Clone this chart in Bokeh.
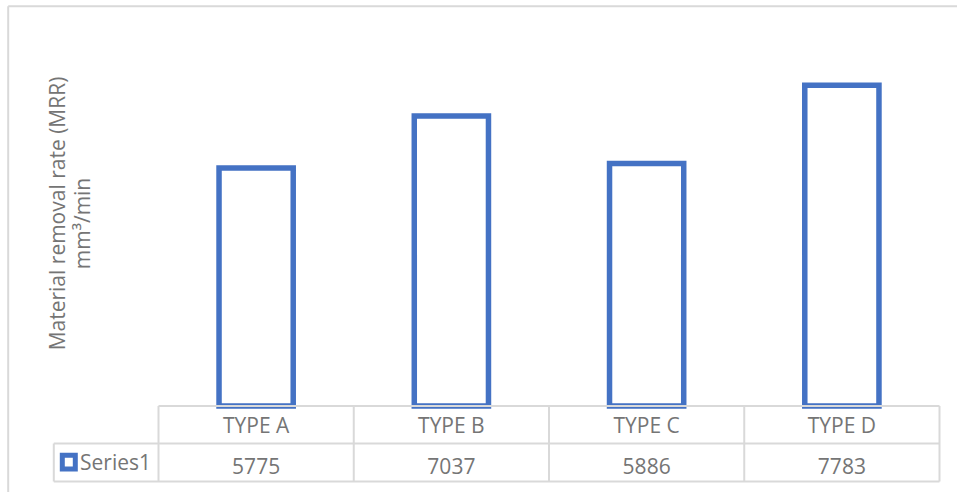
from math import pi

import numpy as np
from bokeh.core.properties import value
from bokeh.embed import file_html
from bokeh.models import Range1d
from bokeh.plotting import figure
from bokeh.resources import INLINE

# ---- data -------------------------------------------------------------
categories = ["TYPE A", "TYPE B", "TYPE C", "TYPE D"]
mrr_values = [5775, 7037, 5886, 7783]
series_name = "Series1"
y_title_lines = ["Material removal rate (MRR)", "mm³/min"]

# ---- layout (pixels) ----------------------------------------------------
W, H = 957, 492
CAT_LEFT, CAT_RIGHT = 158, 939          # category columns of the data table
CAT_W = (CAT_RIGHT - CAT_LEFT) / len(categories)
ZERO_PX = 405.5                         # baseline of the bars
PX_PER_UNIT = 0.04121

HEADER_MID, VALUE_MID = 424.0, 465.0    # vertical centres of the two table rows
ROW_TOP, ROW_MID, ROW_BOTTOM = 405.5, 443, 481
ROW_HEAD_LEFT = 53.3

BLUE = "#4472C4"
GRID = "#D9D9D9"
TEXT = "#757575"
FONT = value("Open Sans")
FONT_SIZE = "21px"


def y_of(px):
    """Vertical pixel position -> value units."""
    return (ZERO_PX - px) / PX_PER_UNIT


def x_of(px):
    """Horizontal pixel position -> category units (one unit per category)."""
    return (px - CAT_LEFT) / CAT_W


n = len(categories)
slot = np.arange(n) + 0.5               # centre of each category column

p = figure(
    width=W, height=H,
    x_range=Range1d(x_of(0), x_of(W)),
    y_range=Range1d(y_of(H), y_of(0)),
    x_axis_location=None, y_axis_location=None,
    toolbar_location=None, output_backend="svg",
    min_border=0,
)
p.outline_line_color = None
p.grid.visible = False
p.background_fill_color = "white"
p.border_fill_color = "white"

# outer chart border (left and top edges)
p.segment(x0=[x_of(7.7), x_of(7.7)], x1=[x_of(7.7), x_of(W + 5)],
          y0=[y_of(5.7), y_of(5.7)], y1=[y_of(H + 5), y_of(5.7)],
          line_color=GRID, line_width=2)

# hollow bars
p.vbar(x=slot, top=mrr_values, bottom=0, width=0.38,
       fill_color="white", line_color=BLUE, line_width=5.5, line_join="miter")

# data table grid
for ypx, left_px in ((ROW_TOP, CAT_LEFT), (ROW_MID, ROW_HEAD_LEFT), (ROW_BOTTOM, ROW_HEAD_LEFT)):
    p.segment(x0=[x_of(left_px)], x1=[n], y0=[y_of(ypx)], y1=[y_of(ypx)],
              line_color=GRID, line_width=2)
col_edges = list(range(n + 1))
p.segment(x0=col_edges, x1=col_edges,
          y0=[y_of(ROW_TOP)] * (n + 1), y1=[y_of(ROW_BOTTOM)] * (n + 1),
          line_color=GRID, line_width=2)
p.segment(x0=[x_of(ROW_HEAD_LEFT)], x1=[x_of(ROW_HEAD_LEFT)],
          y0=[y_of(ROW_MID)], y1=[y_of(ROW_BOTTOM)], line_color=GRID, line_width=2)

# table texts
p.text(x=slot, y=[y_of(HEADER_MID)] * n, text=categories,
       text_align="center", text_baseline="middle",
       text_font=FONT, text_font_size=FONT_SIZE, text_color=TEXT)
p.text(x=slot, y=[y_of(VALUE_MID)] * n, text=[str(v) for v in mrr_values],
       text_align="center", text_baseline="middle",
       text_font=FONT, text_font_size=FONT_SIZE, text_color=TEXT)

# legend key + series name
p.quad(left=[x_of(61.8)], right=[x_of(74.8)], top=[y_of(454.8)], bottom=[y_of(468.6)],
       fill_color="white", line_color=BLUE, line_width=5, line_join="miter")
p.text(x=[x_of(79.5)], y=[y_of(461.5)], text=[series_name],
       text_align="left", text_baseline="middle",
       text_font=FONT, text_font_size=FONT_SIZE, text_color=TEXT)

# vertical axis title (two lines)
p.text(x=[x_of(56.5), x_of(81.0)], y=[y_of(213), y_of(223)], text=y_title_lines,
       angle=pi / 2, text_align="center", text_baseline="middle",
       text_font=FONT, text_font_size=FONT_SIZE, text_color=TEXT)

open("out.html", "w").write(file_html(p, INLINE))
